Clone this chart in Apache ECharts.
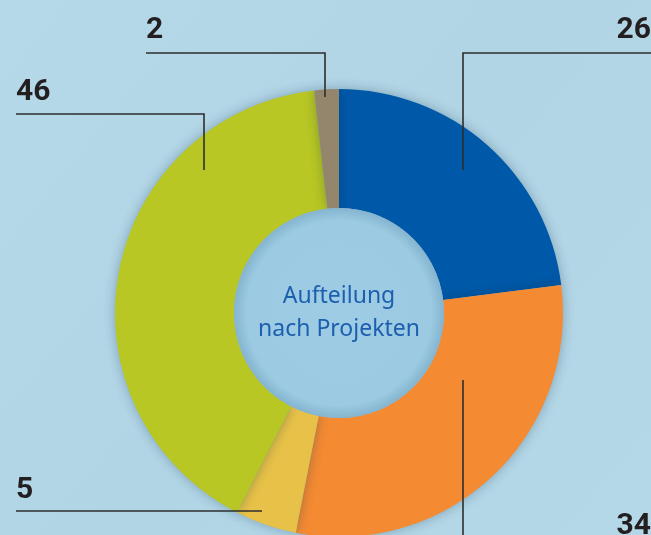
<!DOCTYPE html>
<html>
<head>
<meta charset="utf-8">
<script src="https://cdn.jsdelivr.net/npm/echarts@6/dist/echarts.min.js"></script>
<style>
  html, body { margin: 0; padding: 0; }
  #chart { width: 651px; height: 535px; }
</style>
</head>
<body>
<div id="chart"></div>
<script>
var names = ['Blau', 'Orange', 'Gelb', 'Grün', 'Braun'];
var values = [26, 34, 5, 46, 2];
var colors = ['#0059a8', '#f48b33', '#e8c248', '#b8c724', '#94866c'];
var centerText = 'Aufteilung\nnach Projekten';

// where each number sits and how its leader line runs (px)
var spots = [
  {x: 651, y: 45, align: 'right', line: [[463, 170], [463, 53], [651, 53]]},
  {x: 651, y: 541, align: 'right', line: [[463, 380], [463, 540]]},
  {x: 16, y: 505, align: 'left', line: [[262, 511], [16, 511]]},
  {x: 16, y: 107, align: 'left', line: [[204, 170], [204, 114], [16, 114]]},
  {x: 146, y: 45, align: 'left', line: [[325, 97], [325, 53], [146, 53]]}
];

var chart = echarts.init(document.getElementById('chart'));

var pieData = values.map(function (v, i) {
  return {name: names[i], value: v, itemStyle: {color: colors[i]}};
});

var option = {
  backgroundColor: {
    type: 'linear', x: 0, y: 0, x2: 1, y2: 1,
    colorStops: [
      {offset: 0, color: '#b6d9e9'},
      {offset: 0.5, color: '#b1d5e5'},
      {offset: 1, color: '#b5d8e8'}
    ]
  },
  animation: false,
  series: [
    {
      type: 'pie',
      center: [339, 313],
      radius: [105, 224],
      startAngle: 90,
      silent: true,
      itemStyle: {
        shadowBlur: 12,
        shadowColor: 'rgba(0, 40, 70, 0.3)'
      },
      label: {show: false},
      labelLine: {show: false},
      data: pieData
    },
    {
      // transparent copy on top, only for the numbers and leader lines
      type: 'pie',
      center: [339, 313],
      radius: [105, 224],
      startAngle: 90,
      silent: true,
      z: 5,
      itemStyle: {color: 'transparent'},
      label: {
        show: true,
        formatter: '{c}',
        color: '#231f20',
        fontFamily: 'Roboto',
        fontWeight: 'bold',
        fontSize: 30
      },
      labelLine: {
        show: true,
        lineStyle: {color: '#2e2e2e', width: 1.6}
      },
      labelLayout: function (p) {
        var s = spots[p.dataIndex];
        return {
          x: s.x,
          y: s.y,
          align: s.align,
          verticalAlign: 'bottom',
          labelLinePoints: s.line
        };
      },
      data: values.map(function (v, i) {
        return {name: names[i], value: v};
      })
    },
    {
      type: 'pie',
      center: [339, 313],
      radius: [0, 105],
      silent: true,
      z: 3,
      itemStyle: {
        color: {
          type: 'radial', x: 0.5, y: 0.5, r: 0.5,
          colorStops: [
            {offset: 0, color: '#9ecce4'},
            {offset: 0.88, color: '#9ccae2'},
            {offset: 1, color: '#84b4cf'}
          ]
        }
      },
      label: {
        show: true,
        position: 'center',
        formatter: centerText,
        color: '#1b5fae',
        fontFamily: 'Noto Sans',
        fontSize: 23,
        lineHeight: 33
      },
      labelLine: {show: false},
      data: [{name: 'center', value: 1}]
    }
  ]
};

chart.setOption(option);
</script>
</body>
</html>
